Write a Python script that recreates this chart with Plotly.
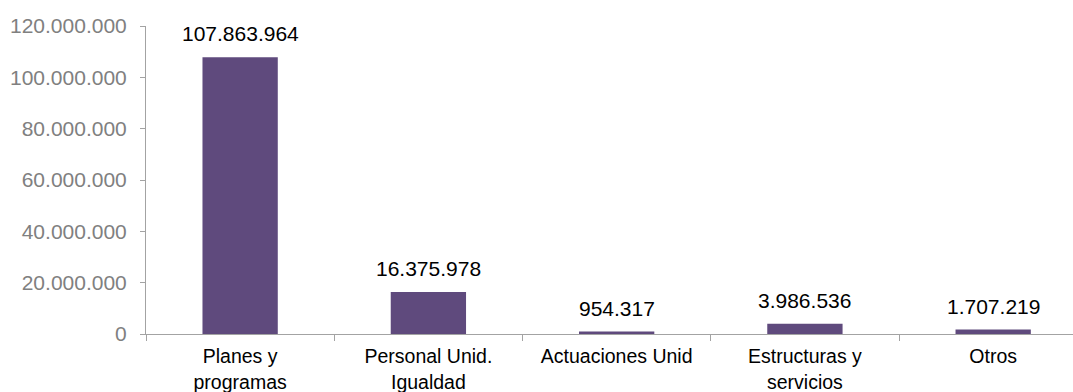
import plotly.graph_objects as go

# Budget by line of action (euros)
categories = ["Planes y<br>programas", "Personal Unid.<br>Igualdad", "Actuaciones Unid",
              "Estructuras y<br>servicios", "Otros"]
values = [107863964, 16375978, 954317, 3986536, 1707219]
y_ticks = [0, 20000000, 40000000, 60000000, 80000000, 100000000, 120000000]

BAR = "#5F4A7D"
AXIS = "#A3A3A3"
FONT = "Liberation Sans, Arial, sans-serif"


def fmt(v):
    return f"{v:,}".replace(",", ".")


fig = go.Figure()
fig.add_trace(go.Bar(
    x=categories, y=values, width=0.4,
    marker=dict(color=BAR, line=dict(width=0)),
    hoverinfo="skip",
))

# value labels above each bar
for c, v in zip(categories, values):
    fig.add_annotation(
        x=c, y=v, text=fmt(v), showarrow=False, yanchor="bottom", yshift=10,
        font=dict(family=FONT, size=21, color="#000000"),
    )

fig.update_layout(
    width=1073, height=392,
    margin=dict(l=146, r=0, t=26, b=58, pad=0, autoexpand=False),
    paper_bgcolor="white", plot_bgcolor="white",
    separators=",.",
    showlegend=False,
    font=dict(family=FONT, size=20, color="#000000"),
    bargap=0.6,
)
fig.update_xaxes(
    type="category", range=[-0.5, 4.424], automargin=False,
    showline=True, linecolor=AXIS, linewidth=1,
    ticks="outside", tickson="boundaries", ticklen=6, tickcolor=AXIS,
    showgrid=False, zeroline=False,
    tickfont=dict(family=FONT, size=19.5, color="#000000"),
    ticklabelstandoff=5,
)
fig.update_yaxes(
    range=[0, 120000000], tickvals=y_ticks, tickformat=",d", automargin=False,
    showline=True, linecolor=AXIS, linewidth=1,
    ticks="outside", ticklen=5, tickcolor=AXIS,
    showgrid=False, zeroline=False,
    tickfont=dict(family=FONT, size=21, color="#808080"),
    ticklabelstandoff=9,
)

fig.write_html("out.html")
